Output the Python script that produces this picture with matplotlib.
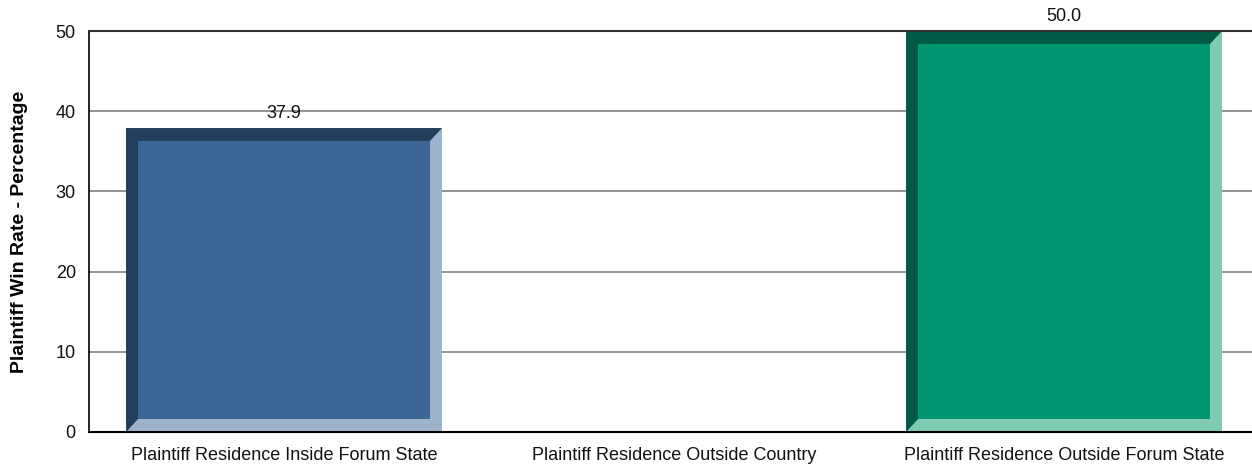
import numpy as np
import matplotlib
matplotlib.use("Agg")
import matplotlib.pyplot as plt
from matplotlib.patches import Polygon, Rectangle

categories = ["Plaintiff Residence Inside Forum State",
              "Plaintiff Residence Outside Country",
              "Plaintiff Residence Outside Forum State"]
win_rates = [37.9, None, 50.0]
# (main, dark bevel, light bevel)
bar_colors = [("#3B6696", "#233D5C", "#9DB2CB"),
              None,
              ("#009670", "#005A45", "#80CAB4")]
yticks = [0, 10, 20, 30, 40, 50]

plt.rcParams['font.family'] = ['Liberation Sans', 'DejaVu Sans']

W, H = 1252, 466
fig = plt.figure(figsize=(W / 100, H / 100), dpi=100)
ax = fig.add_axes([89 / W, 34 / H, 1170 / W, 401 / H])

ax.set_xlim(-0.5, 2.5)
ax.set_ylim(0, 50)

for y in yticks[1:-1]:
    ax.axhline(y, color="#808080", lw=1.2, zorder=1)

bar_w = 0.81
bw = 12 / 390   # bevel width in x data units
bh = 13 / 8.02  # bevel height in y data units

for i, (v, c) in enumerate(zip(win_rates, bar_colors)):
    if v is None:
        continue
    main, dark, light = c
    x0, x1 = i - bar_w / 2, i + bar_w / 2
    y0, y1 = 0, v
    ax.add_patch(Rectangle((x0, y0), x1 - x0, y1 - y0, facecolor=light,
                           edgecolor="none", zorder=2))
    ax.add_patch(Polygon([(x0, y0), (x0, y1), (x1, y1), (x1 - bw, y1 - bh),
                          (x0 + bw, y1 - bh), (x0 + bw, y0 + bh)],
                         closed=True, facecolor=dark, edgecolor="none", zorder=3))
    ax.add_patch(Rectangle((x0 + bw, y0 + bh), x1 - x0 - 2 * bw, y1 - y0 - 2 * bh,
                           facecolor=main, edgecolor="none", zorder=4))
    ax.text(i, v + 0.8, f"{v:.1f}", ha="center", va="bottom", fontsize=13,
            color="#111111", zorder=5)

ax.set_xticks(range(len(categories)))
ax.set_xticklabels(categories, fontsize=13, color="#111111")
ax.set_yticks(yticks)
ax.set_yticklabels([str(t) for t in yticks], fontsize=13, color="#111111")
ax.tick_params(axis='both', length=0)
ax.tick_params(axis='y', pad=9.5)
ax.tick_params(axis='x', pad=11)

ax.spines['right'].set_visible(False)
ax.spines['top'].set_color("#333333")
ax.spines['top'].set_linewidth(1.5)
ax.spines['left'].set_color("black")
ax.spines['bottom'].set_color("black")
ax.spines['left'].set_linewidth(1.2)
ax.spines['bottom'].set_linewidth(1.5)
for s in ax.spines.values():
    s.set_zorder(6)

ax.set_ylabel("Plaintiff Win Rate - Percentage", fontsize=14, fontweight='bold',
              labelpad=20)

fig.savefig("out.png", dpi=100)
